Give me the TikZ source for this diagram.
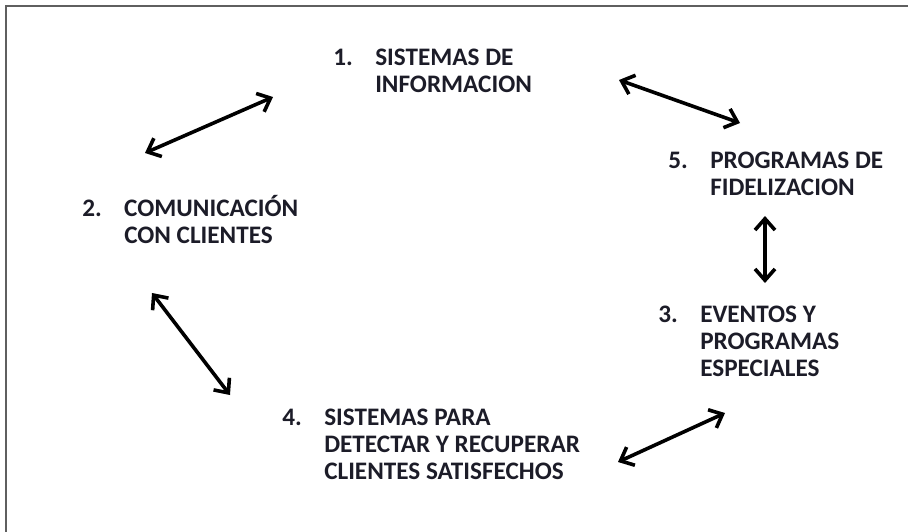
\documentclass[tikz,border=0pt]{standalone}
\usepackage{fontspec}
\setmainfont{Carlito}
\usetikzlibrary{arrows.meta}

\definecolor{texto}{RGB}{28,28,40}
\definecolor{marco}{RGB}{95,95,95}

\tikzset{
  etapa/.style={anchor=base west, inner sep=0pt, text=texto,
    font=\fontsize{18.9}{20.25}\selectfont\bfseries},
  flecha/.style={{Straight Barb[length=8.5pt,width=15pt]}-{Straight Barb[length=8.5pt,width=15pt]},
    line width=2.7pt, line cap=round, line join=round},
  borde/.style={draw=marco, line width=1.8pt}
}
\newcommand{\paso}[2]{\begin{tabular}[t]{@{}p{31.5pt}@{}l@{}}#1 & #2\end{tabular}}

\begin{document}
\begin{tikzpicture}[x=0.75pt,y=0.75pt,yscale=-1,xscale=1]
        \useasboundingbox (0,0) rectangle (908,532);
        % marco
        \draw [borde] (6,532) -- (6,6) -- (908,6) ;

        % etapas
        \node [etapa] (sisinfo) at (333,65) {\paso{1.}{SISTEMAS DE\\ & INFORMACION}};
        \node [etapa] (comunic) at (82,216) {\paso{2.}{COMUNICACIÓN\\ & CON CLIENTES}};
        \node [etapa] (fidel) at (668,168) {\paso{5.}{PROGRAMAS DE\\ & FIDELIZACION}};
        \node [etapa] (eventos) at (658,322) {\paso{3.}{EVENTOS Y\\ & PROGRAMAS\\ & ESPECIALES}};
        \node [etapa] (detectar) at (282,425) {\paso{4.}{SISTEMAS PARA\\ & DETECTAR Y RECUPERAR\\ & CLIENTES SATISFECHOS}};

        % extremos de las flechas
        \coordinate (f12a) at (145,153);
        \coordinate (f12b) at (273,97);
        \coordinate (f15a) at (619,80);
        \coordinate (f15b) at (740,123);
        \coordinate (f53a) at (765,216);
        \coordinate (f53b) at (765,283);
        \coordinate (f24a) at (152,293);
        \coordinate (f24b) at (230,395);
        \coordinate (f43a) at (618,462);
        \coordinate (f43b) at (725,413);

        % flechas
        \draw [flecha] (f12a) -- (f12b) ;
        \draw [flecha] (f15a) -- (f15b) ;
        \draw [flecha] (f53a) -- (f53b) ;
        \draw [flecha] (f24a) -- (f24b) ;
        \draw [flecha] (f43a) -- (f43b) ;
\end{tikzpicture}
\end{document}
